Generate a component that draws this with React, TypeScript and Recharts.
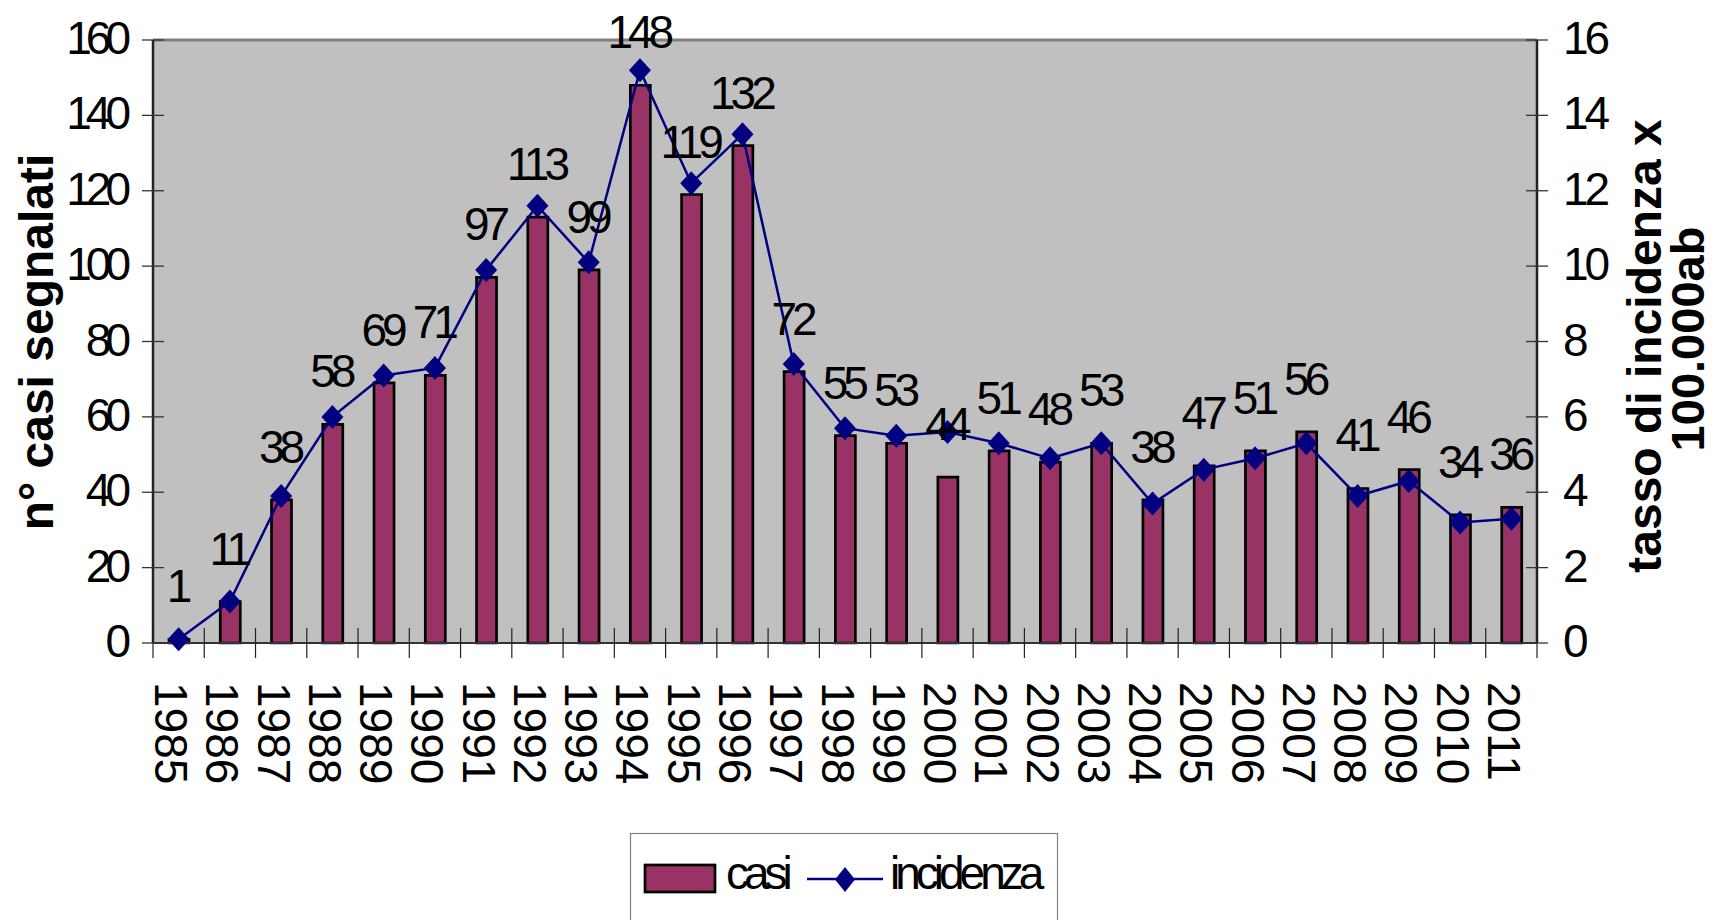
import React from "react";
import {
  ComposedChart,
  Bar,
  Line,
  XAxis,
  YAxis,
  CartesianGrid,
  LabelList,
  ReferenceLine,
} from "recharts";

const years = [
  "1985", "1986", "1987", "1988", "1989", "1990", "1991", "1992", "1993",
  "1994", "1995", "1996", "1997", "1998", "1999", "2000", "2001", "2002",
  "2003", "2004", "2005", "2006", "2007", "2008", "2009", "2010", "2011",
];
const casi = [
  1, 11, 38, 58, 69, 71, 97, 113, 99, 148, 119, 132, 72, 55, 53, 44, 51, 48,
  53, 38, 47, 51, 56, 41, 46, 34, 36,
];
const incidenza = [
  0.1, 1.1, 3.9, 6.0, 7.1, 7.3, 9.9, 11.6, 10.1, 15.2, 12.2, 13.5, 7.4, 5.7,
  5.5, 5.6, 5.3, 4.9, 5.3, 3.7, 4.6, 4.9, 5.3, 3.9, 4.3, 3.2, 3.3,
];
const leftTicks = [0, 20, 40, 60, 80, 100, 120, 140, 160];
const rightTicks = [0, 2, 4, 6, 8, 10, 12, 14, 16];

const data = years.map((year, i) => ({
  year,
  casi: casi[i],
  incidenza: incidenza[i],
}));

const FONT = "'Liberation Sans', Arial, sans-serif";
const BAR = "#993366";
const NAVY = "#000080";

function YearTick(props: any) {
  const { x, y, payload, index, width, visibleTicksCount } = props;
  const half =
    payload && payload.offset ? payload.offset : width / visibleTicksCount / 2;
  return (
    <g>
      <line x1={x - half} x2={x - half} y1={y - 15} y2={y + 15} stroke="#222" strokeWidth={1.2} />
      {index === years.length - 1 && (
        <line x1={x + half} x2={x + half} y1={y - 15} y2={y + 15} stroke="#222" strokeWidth={1.2} />
      )}
      <text
        transform={`translate(${x - 23.5},${y + 39}) rotate(90)`}
        fontSize={46}
        fontFamily={FONT}
        fill="#000"
      >
        {payload.value}
      </text>
    </g>
  );
}

function LeftTick(props: any) {
  const { x, y, payload } = props;
  return (
    <g>
      <line x1={x - 11} x2={x + 11} y1={y} y2={y} stroke="#333" strokeWidth={1.3} />
      <text x={x - 28} y={y + 14} textAnchor="end" fontSize={46} letterSpacing={-6} fontFamily={FONT} fill="#000">
        {payload.value}
      </text>
    </g>
  );
}

function RightTick(props: any) {
  const { x, y, payload } = props;
  return (
    <g>
      <line x1={x - 11} x2={x + 11} y1={y} y2={y} stroke="#333" strokeWidth={1.3} />
      <text x={x + 26} y={y + 14} textAnchor="start" fontSize={46} letterSpacing={-4} fontFamily={FONT} fill="#000">
        {payload.value}
      </text>
    </g>
  );
}

function LeftTitle() {
  return (
    <text
      transform="translate(53,342) rotate(-90)"
      textAnchor="middle"
      fontSize={48}
      fontWeight="bold"
      fontFamily={FONT}
      fill="#000"
    >
      n° casi segnalati
    </text>
  );
}

function RightTitle() {
  return (
    <g>
      <text transform="translate(1661,346) rotate(-90)" textAnchor="middle" fontSize={48} fontWeight="bold" fontFamily={FONT} fill="#000">
        tasso di incidenza x
      </text>
      <text transform="translate(1704,339) rotate(-90)" textAnchor="middle" fontSize={47} fontWeight="bold" fontFamily={FONT} fill="#000">
        100.000ab
      </text>
    </g>
  );
}

function CaseLabel(props: any) {
  const vb = props.viewBox || props;
  const { x, y, width } = vb;
  return (
    <text
      x={x + width / 2 - 2}
      y={y - 37}
      textAnchor="middle"
      fontSize={46}
      letterSpacing={-5}
      fontFamily={FONT}
      fill="#000"
    >
      {props.value}
    </text>
  );
}

function Diamond(props: any) {
  const { cx, cy } = props;
  if (cx == null || cy == null) return null;
  return (
    <polygon
      key={`d-${props.index}`}
      points={`${cx},${cy - 12} ${cx + 11},${cy} ${cx},${cy + 12} ${cx - 11},${cy}`}
      fill={NAVY}
    />
  );
}

function LegendBox() {
  return (
    <svg
      width={1715}
      height={920}
      style={{ position: "absolute", left: 0, top: 0, pointerEvents: "none" }}
    >
      <rect x={630.5} y={833.5} width={427} height={120} fill="#fff" stroke="#808080" strokeWidth={1.2} />
      <rect x={645} y={865} width={70} height={27} fill={BAR} stroke="#000" strokeWidth={2.7} />
      <text x={726} y={889} fontSize={46} letterSpacing={-5} fontFamily={FONT} fill="#000">
        casi
      </text>
      <line x1={807} x2={883} y1={879} y2={879} stroke={NAVY} strokeWidth={2.5} />
      <polygon points="845,867 855,879.5 845,892 835,879.5" fill={NAVY} />
      <text x={890} y={889} fontSize={46} letterSpacing={-5} fontFamily={FONT} fill="#000">
        incidenza
      </text>
    </svg>
  );
}

export default function App() {
  return (
    <div
      style={{
        position: "absolute",
        left: 0,
        top: 0,
        width: 1715,
        height: 920,
        overflow: "hidden",
        background: "#fff",
      }}
    >
      <ComposedChart
        width={1715}
        height={920}
        data={data}
        margin={{ top: 40, right: 0, bottom: 0, left: 0 }}
        barCategoryGap={0}
      >
        <CartesianGrid yAxisId="left" fill="#C0C0C0" stroke="none" horizontal={false} vertical={false} />
        <XAxis
          dataKey="year"
          height={277}
          interval={0}
          tickSize={0}
          tickMargin={0}
          tickLine={false}
          axisLine={{ stroke: "#333", strokeWidth: 2 }}
          tick={<YearTick />}
        />
        <YAxis
          yAxisId="left"
          width={153}
          domain={[0, 160]}
          ticks={leftTicks}
          interval={0}
          tickSize={0}
          tickMargin={0}
          tickLine={false}
          axisLine={{ stroke: "#222", strokeWidth: 2.5 }}
          tick={<LeftTick />}
          label={<LeftTitle />}
        />
        <YAxis
          yAxisId="right"
          orientation="right"
          width={178}
          domain={[0, 16]}
          ticks={rightTicks}
          interval={0}
          tickSize={0}
          tickMargin={0}
          tickLine={false}
          axisLine={{ stroke: "#222", strokeWidth: 2.5 }}
          tick={<RightTick />}
          label={<RightTitle />}
        />
        <ReferenceLine yAxisId="left" y={160} stroke="#808080" strokeWidth={3} />
        <Bar
          yAxisId="left"
          dataKey="casi"
          fill={BAR}
          stroke="#000"
          strokeWidth={2.7}
          barSize={20}
          isAnimationActive={false}
        >
          <LabelList dataKey="casi" content={<CaseLabel />} />
        </Bar>
        <Line
          yAxisId="right"
          dataKey="incidenza"
          stroke={NAVY}
          strokeWidth={2.5}
          dot={<Diamond />}
          activeDot={false}
          isAnimationActive={false}
        />
      </ComposedChart>
      <LegendBox />
    </div>
  );
}
